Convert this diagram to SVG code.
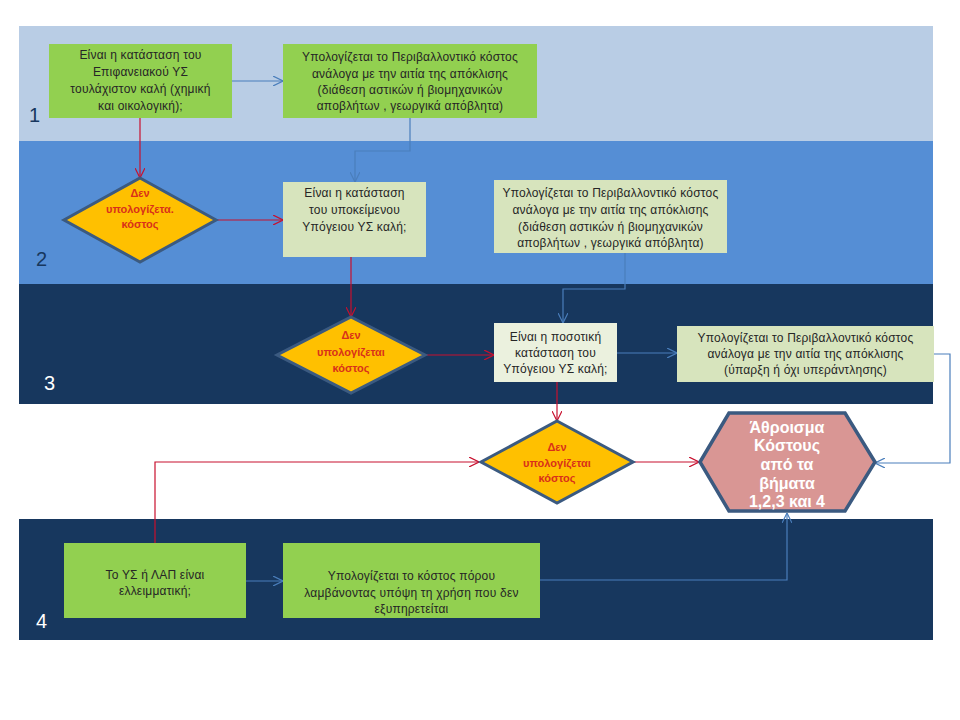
<svg xmlns="http://www.w3.org/2000/svg" width="960" height="720" viewBox="0 0 960 720">
<style>
.bx{stroke:none}
.g1{fill:#92D050}
.g2{fill:#D7E4BD}
.g3{fill:#EBF1DE}
.t{font-family:"Liberation Sans",Arial,sans-serif;font-size:12px;fill:#262626;text-anchor:middle;letter-spacing:0.2px}
.dm{fill:#FFC000;stroke:#3B5A80;stroke-width:3}
.dt{font-family:"Liberation Sans",Arial,sans-serif;font-size:11px;font-weight:bold;fill:#D9301A;text-anchor:middle}
.hx{fill:#D99694;stroke:#3B5A80;stroke-width:3.5}
.ht{font-family:"Liberation Sans",Arial,sans-serif;font-size:16px;font-weight:bold;fill:#FFFFFF;text-anchor:middle}
.num{font-family:"Liberation Sans",Arial,sans-serif;font-size:20px}
.cb{fill:none;stroke:#4A7EBB;stroke-width:1.2;marker-end:url(#ab)}
.cr{fill:none;stroke:#C8102E;stroke-width:1.2;marker-end:url(#ar)}
</style>
<defs>
<marker id="ab" viewBox="0 0 10 10" refX="10" refY="5" markerWidth="10" markerHeight="10" markerUnits="userSpaceOnUse" orient="auto">
<path d="M0,0 L10,5 L0,10" fill="none" stroke="#4A7EBB" stroke-width="1.2"/>
</marker>
<marker id="ar" viewBox="0 0 10 10" refX="10" refY="5" markerWidth="10" markerHeight="10" markerUnits="userSpaceOnUse" orient="auto">
<path d="M0,0 L10,5 L0,10" fill="none" stroke="#C8102E" stroke-width="1.2"/>
</marker>
</defs>
<rect width="960" height="720" fill="#FFFFFF"/>
<g id="bands">
<rect x="19" y="26" width="914" height="115" fill="#B9CDE5"/>
<rect x="19" y="141" width="914" height="143" fill="#558ED5"/>
<rect x="19" y="284" width="914" height="120" fill="#17375E"/>
<rect x="19" y="519" width="914" height="121" fill="#17375E"/>
<text class="num" x="29" y="122" fill="#17375E">1</text>
<text class="num" x="36" y="266" fill="#17375E">2</text>
<text class="num" x="44" y="390" fill="#FFFFFF">3</text>
<text class="num" x="36" y="628" fill="#FFFFFF">4</text>
</g>
<g id="connectors">
<path class="cb" d="M232,81 L283,81"/>
<path class="cb" d="M410,118 L410,151 L355,151 L355,182"/>
<path class="cr" d="M140,118 L140,178"/>
<path class="cr" d="M216,220 L283,220"/>
<path class="cb" d="M625,253 L625,289 L563,289 L563,323"/>
<path class="cr" d="M351,257 L351,317"/>
<path class="cr" d="M425,355 L494,355"/>
<path class="cb" d="M617,353 L677,353"/>
<path class="cb" d="M934,354 L950,354 L950,463 L875,463"/>
<path class="cr" d="M557,382 L557,421"/>
<path class="cr" d="M632,462 L699,462"/>
<path class="cr" d="M155,543 L155,462 L479,462"/>
<path class="cb" d="M246,581 L283,581"/>
<path class="cb" d="M540,580 L787,580 L787,513"/>
</g>
<g id="n1a">
<rect class="bx g1" x="49" y="44" width="183" height="74"/>
<text class="t" x="140.5" y="59">Είναι η κατάσταση του</text>
<text class="t" x="140.5" y="76">Επιφανειακού ΥΣ</text>
<text class="t" x="140.5" y="93">τουλάχιστον καλή (χημική</text>
<text class="t" x="140.5" y="110">και οικολογική);</text>
</g>
<g id="n1b">
<rect class="bx g1" x="283" y="44" width="254" height="74"/>
<text class="t" x="410" y="61">Υπολογίζεται το Περιβαλλοντικό κόστος</text>
<text class="t" x="410" y="78">ανάλογα με την αιτία της απόκλισης</text>
<text class="t" x="410" y="94">(διάθεση αστικών ή βιομηχανικών</text>
<text class="t" x="410" y="110">αποβλήτων , γεωργικά απόβλητα)</text>
</g>
<g id="d1">
<polygon class="dm" points="140,178 216,220 140,262 64,220"/>
<text class="dt" x="140" y="197">Δεν</text>
<text class="dt" x="140" y="213">υπολογίζετα.</text>
<text class="dt" x="140" y="228">κόστος</text>
</g>
<g id="n2a">
<rect class="bx g2" x="283" y="182" width="143" height="75"/>
<text class="t" x="354.5" y="197">Είναι η κατάσταση</text>
<text class="t" x="354.5" y="214">του υποκείμενου</text>
<text class="t" x="354.5" y="231">Υπόγειου ΥΣ καλή;</text>
</g>
<g id="n2b">
<rect class="bx g2" x="494" y="180" width="233" height="73"/>
<text class="t" x="610.5" y="197">Υπολογίζεται το Περιβαλλοντικό κόστος</text>
<text class="t" x="610.5" y="214">ανάλογα με την αιτία της απόκλισης</text>
<text class="t" x="610.5" y="231">(διάθεση αστικών ή βιομηχανικών</text>
<text class="t" x="610.5" y="247">αποβλήτων , γεωργικά απόβλητα)</text>
</g>
<g id="d2">
<polygon class="dm" points="351,317 425,355 351,393 277,355"/>
<text class="dt" x="351" y="339">Δεν</text>
<text class="dt" x="351" y="356">υπολογίζεται</text>
<text class="dt" x="351" y="372">κόστος</text>
</g>
<g id="n3a">
<rect class="bx g3" x="494" y="323" width="123" height="59"/>
<text class="t" x="555.5" y="341">Είναι η ποσοτική</text>
<text class="t" x="555.5" y="357">κατάσταση του</text>
<text class="t" x="555.5" y="373">Υπόγειου ΥΣ καλή;</text>
</g>
<g id="n3b">
<rect class="bx g2" x="677" y="326" width="257" height="56"/>
<text class="t" x="805.5" y="342">Υπολογίζεται το Περιβαλλοντικό κόστος</text>
<text class="t" x="805.5" y="358">ανάλογα με την αιτία της απόκλισης</text>
<text class="t" x="805.5" y="374">(ύπαρξη ή όχι υπεράντλησης)</text>
</g>
<g id="d3">
<polygon class="dm" points="557,421 633,462 557,503 481,462"/>
<text class="dt" x="557" y="451">Δεν</text>
<text class="dt" x="557" y="467">υπολογίζεται</text>
<text class="dt" x="557" y="482">κόστος</text>
</g>
<g id="hex">
<polygon class="hx" points="700,462 729,413 845,413 875,462 845,511 729,511"/>
<text class="ht" x="787" y="433">Άθροισμα</text>
<text class="ht" x="787" y="451">Κόστους</text>
<text class="ht" x="787" y="470">από τα</text>
<text class="ht" x="787" y="489">βήματα</text>
<text class="ht" x="787" y="507">1,2,3 και 4</text>
</g>
<g id="n4a">
<rect class="bx g1" x="64" y="543" width="182" height="75"/>
<text class="t" x="155" y="579">Το ΥΣ ή ΛΑΠ είναι</text>
<text class="t" x="155" y="595">ελλειμματική;</text>
</g>
<g id="n4b">
<rect class="bx g1" x="283" y="543" width="257" height="75"/>
<text class="t" x="411.5" y="580">Υπολογίζεται το κόστος πόρου</text>
<text class="t" x="411.5" y="597">λαμβάνοντας υπόψη τη χρήση που δεν</text>
<text class="t" x="411.5" y="613">εξυπηρετείται</text>
</g>
</svg>
